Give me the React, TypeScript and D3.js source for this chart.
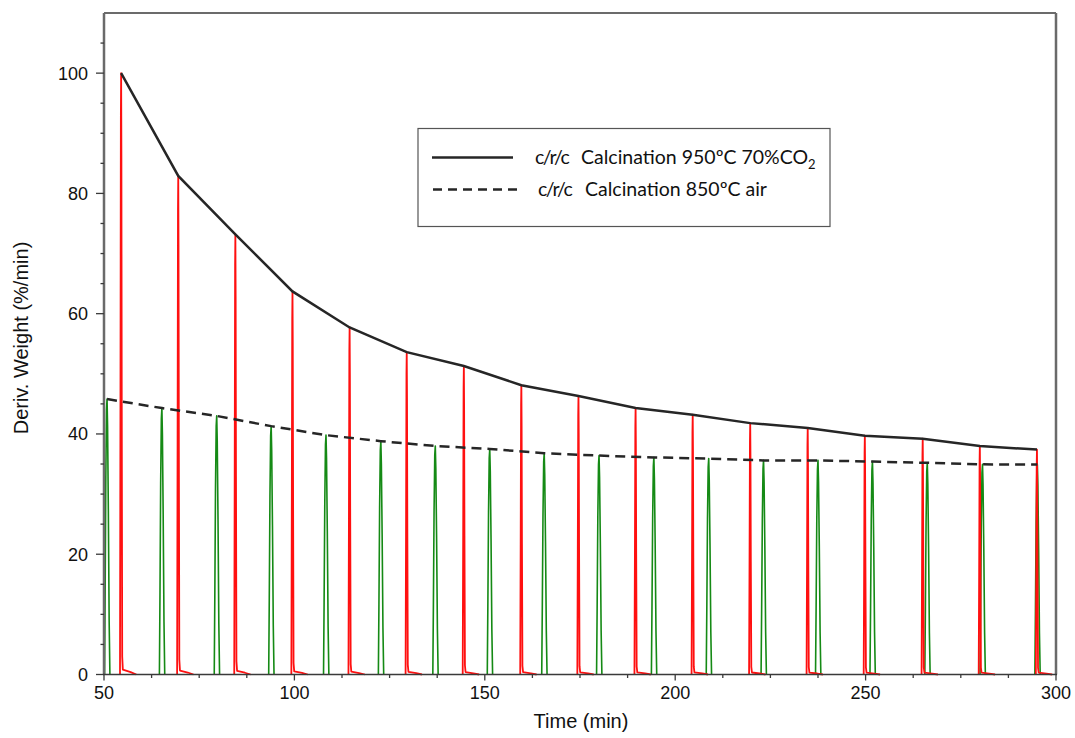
import React from "react";
import * as d3 from "d3";

// Peak times (min) and peak heights (%/min) of each derivative-weight spike
const co2Times = [54.5, 69.5, 84.5, 99.5, 114.5, 129.5, 144.5, 159.6, 174.6, 189.6, 204.6, 219.7, 234.8, 249.8, 265.0, 280.0, 295.0];
const co2Peaks = [100, 82.9, 73.2, 63.7, 57.7, 53.6, 51.3, 48.1, 46.3, 44.3, 43.2, 41.8, 41.0, 39.7, 39.2, 38.0, 37.4];

const airTimes = [50.8, 65.2, 79.6, 93.9, 108.3, 122.7, 137.0, 151.3, 165.6, 180.0, 194.4, 208.8, 223.2, 237.5, 251.8, 266.2, 280.7, 295.1];
const airPeaks = [45.8, 44.3, 43.0, 41.3, 39.8, 38.8, 38.0, 37.5, 36.8, 36.4, 36.1, 35.9, 35.6, 35.6, 35.4, 35.2, 34.95, 34.9];

// Spike profiles: [offset from peak time (min), fraction of peak]
const co2Profile: [number, number][] = [
  [-0.3, 0], [-0.18, 0.45], [-0.07, 0.93], [0, 1], [0.07, 0.86], [0.16, 0.45], [0.28, 0.03], [0.45, 0.008], [2.5, 0.004], [4.0, 0],
];
const airProfile: [number, number][] = [
  [-0.65, 0], [-0.5, 0.3], [-0.32, 0.72], [-0.14, 0.96], [0, 1], [0.14, 0.9], [0.34, 0.6], [0.55, 0.2], [0.75, 0],
];

const xTicksMajor = [50, 100, 150, 200, 250, 300];
const yTicksMajor = [0, 20, 40, 60, 80, 100];

const legendLabels = ["c/r/c", "Calcination 950ºC 70%CO", "2", "Calcination 850ºC air"];
const axisTitles = { x: "Time (min)", y: "Deriv. Weight (%/min)" };

export default function App() {
  const W = 1075;
  const H = 738;
  const x = d3.scaleLinear().domain([50, 300]).range([104, 1056]);
  const y = d3.scaleLinear().domain([0, 110]).range([674.5, 13]);

  const line = d3
    .line<[number, number]>()
    .x((d) => x(d[0]))
    .y((d) => y(d[1]));

  const spike = (t: number, p: number, prof: [number, number][]) =>
    line(prof.map(([dt, f]) => [t + dt, f * p] as [number, number])) || "";

  const co2Env = line(co2Times.map((t, i) => [t, co2Peaks[i]] as [number, number])) || "";
  const airEnv = line(airTimes.map((t, i) => [t, airPeaks[i]] as [number, number])) || "";

  const xMinor = d3.range(50, 300.01, 12.5).filter((v) => v % 50 !== 0);
  const yMinor = d3.range(0, 106, 5).filter((v) => v % 20 !== 0);

  const tickFont = "'Liberation Sans', Arial, sans-serif";
  const legendFont = "Lato, 'Noto Sans', sans-serif";

  return (
    <svg
      width={W}
      height={H}
      style={{ position: "absolute", left: 0, top: 0, background: "#fff" }}
    >
      <rect x={0} y={0} width={W} height={H} fill="#fff" />

      {/* air calcination spikes */}
      <g fill="none" stroke="#158a15" strokeWidth={1.6} strokeLinejoin="round">
        {airTimes.map((t, i) => (
          <path key={i} d={spike(t, airPeaks[i], airProfile)} />
        ))}
      </g>

      {/* CO2 calcination spikes */}
      <g fill="none" stroke="#ff1010" strokeWidth={1.8} strokeLinejoin="round">
        {co2Times.map((t, i) => (
          <path key={i} d={spike(t, co2Peaks[i], co2Profile)} />
        ))}
      </g>

      {/* peak envelopes */}
      <path d={airEnv} fill="none" stroke="#262626" strokeWidth={2.5} strokeDasharray="10,6" />
      <path d={co2Env} fill="none" stroke="#262626" strokeWidth={2.5} />

      {/* frame */}
      <line x1={x(50)} x2={x(300)} y1={y(110)} y2={y(110)} stroke="#3a3a3a" strokeWidth={1.5} />
      <line x1={x(300)} x2={x(300)} y1={y(110)} y2={y(0)} stroke="#6a6a6a" strokeWidth={2.5} />
      <line x1={x(50)} x2={x(50)} y1={y(110)} y2={y(0)} stroke="#6a6a6a" strokeWidth={2.5} />
      <line x1={x(50) - 1} x2={x(300) + 1} y1={y(0)} y2={y(0)} stroke="#3a3a3a" strokeWidth={1.6} />

      {/* x axis ticks */}
      <g stroke="#3a3a3a" strokeWidth={1.3}>
        {xTicksMajor.map((v) => (
          <line key={v} x1={x(v)} x2={x(v)} y1={y(0)} y2={y(0) + 6} />
        ))}
        {xMinor.map((v) => (
          <line key={v} x1={x(v)} x2={x(v)} y1={y(0)} y2={y(0) + 3.5} />
        ))}
      </g>
      <g fontFamily={tickFont} fontSize={18} fill="#111" textAnchor="middle">
        {xTicksMajor.map((v) => (
          <text key={v} x={x(v)} y={699}>
            {v}
          </text>
        ))}
      </g>

      {/* y axis ticks */}
      <g stroke="#3a3a3a" strokeWidth={1.3}>
        {yTicksMajor.map((v) => (
          <line key={v} x1={x(50) - 8} x2={x(50)} y1={y(v)} y2={y(v)} />
        ))}
        {yMinor.map((v) => (
          <line key={v} x1={x(50) - 3.5} x2={x(50)} y1={y(v)} y2={y(v)} />
        ))}
      </g>
      <g fontFamily={tickFont} fontSize={18} fill="#111" textAnchor="end">
        {yTicksMajor.map((v) => (
          <text key={v} x={88} y={y(v)} dy="0.36em">
            {v}
          </text>
        ))}
      </g>

      {/* axis titles */}
      <text x={581} y={728} fontFamily={tickFont} fontSize={20} fill="#111" textAnchor="middle">
        {axisTitles.x}
      </text>
      <text
        transform="translate(28,338) rotate(-90)"
        fontFamily={tickFont}
        fontSize={20}
        fill="#111"
        textAnchor="middle"
      >
        {axisTitles.y}
      </text>

      {/* legend */}
      <rect x={418} y={128.5} width={412} height={98} fill="#fff" stroke="#555" strokeWidth={1.2} />
      <line x1={432} x2={513} y1={157.5} y2={157.5} stroke="#262626" strokeWidth={2.5} />
      <line x1={433} x2={518} y1={189.5} y2={189.5} stroke="#262626" strokeWidth={2.5} strokeDasharray="9,6" />
      <g fontFamily={legendFont} fontSize={19.5} fill="#111">
        <text x={535} y={164} letterSpacing={-1.6}>{legendLabels[0]}</text>
        <text x={581} y={164}>
          {legendLabels[1]}
          <tspan fontSize={13} dy={5}>
            {legendLabels[2]}
          </tspan>
        </text>
        <text x={538} y={195.5} letterSpacing={-1.6}>{legendLabels[0]}</text>
        <text x={585} y={195.5}>{legendLabels[3]}</text>
      </g>
    </svg>
  );
}
